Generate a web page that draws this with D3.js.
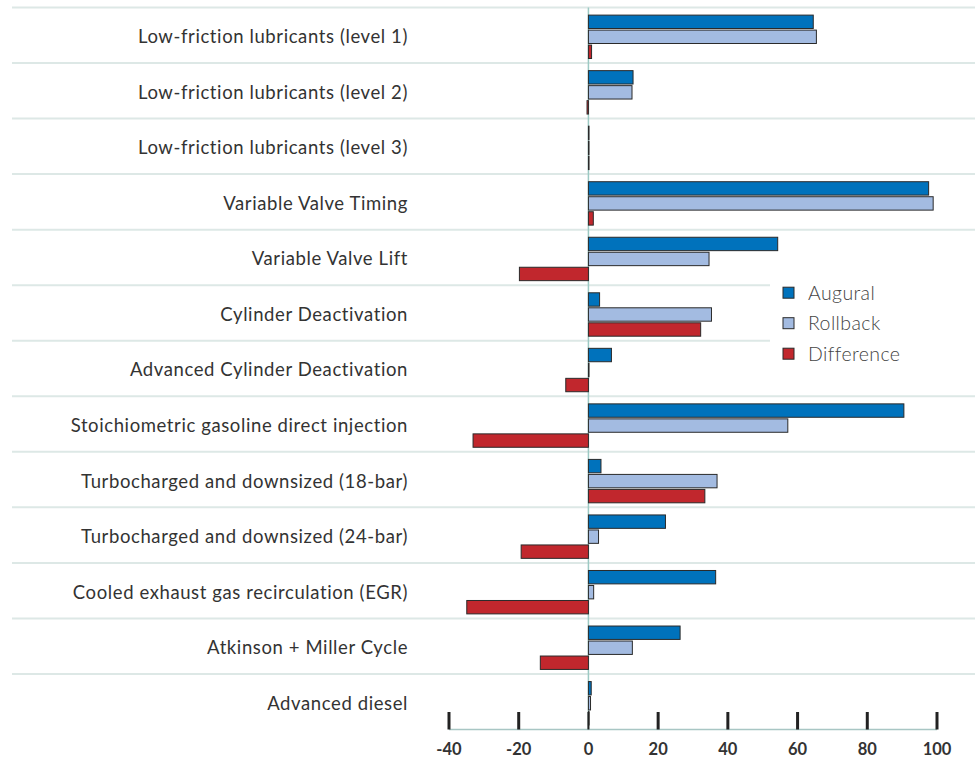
<!DOCTYPE html>
<html>
<head>
<meta charset="utf-8">
<script src="https://cdn.jsdelivr.net/npm/d3@7"></script>
<style>
  html, body { margin: 0; padding: 0; background: #fff; }
  svg { display: block; font-family: Lato, "Open Sans", sans-serif; font-variant-ligatures: none; }
</style>
</head>
<body>
<svg id="chart" width="975" height="760"></svg>
<script>
const categories = [
  "Low-friction lubricants (level 1)",
  "Low-friction lubricants (level 2)",
  "Low-friction lubricants (level 3)",
  "Variable Valve Timing",
  "Variable Valve Lift",
  "Cylinder Deactivation",
  "Advanced Cylinder Deactivation",
  "Stoichiometric gasoline direct injection",
  "Turbocharged and downsized (18-bar)",
  "Turbocharged and downsized (24-bar)",
  "Cooled exhaust gas recirculation (EGR)",
  "Atkinson + Miller Cycle",
  "Advanced diesel"
];
const seriesNames = ["Augural", "Rollback", "Difference"];
const augural    = [64.5, 12.8, 0.05, 97.6, 54.3, 3.2, 6.6, 90.5, 3.6, 22.1, 36.5, 26.3, 0.8];
const rollback   = [65.4, 12.5, 0.05, 98.9, 34.6, 35.3, 0.05, 57.2, 36.9, 2.9, 1.5, 12.6, 0.6];
const difference = [0.9, -0.4, 0.05, 1.4, -19.8, 32.2, -6.5, -33.1, 33.4, -19.3, -34.9, -13.8, 0.05];
const xTicks = [-40, -20, 0, 20, 40, 60, 80, 100];
const colors = ["#0072bc", "#a3bbe1", "#c1272d"];

const seriesValues = [augural, rollback, difference];
const rows = categories.map((c, i) => ({
  cat: c,
  vals: seriesNames.map((s, j) => ({ series: s, value: seriesValues[j][i] }))
}));

const svg = d3.select("#chart");
const x = d3.scaleLinear().domain([-40, 100]).range([449, 937]);
const y = d3.scaleBand().domain(categories).range([7.5, 729.5]).paddingInner(0).paddingOuter(0);
const rh = y.bandwidth();
const yInner = d3.scaleBand().domain(seriesNames).range([7.6, 51.0]).paddingInner(0.107).paddingOuter(0);

// row separators
svg.append("g").selectAll("line").data(categories).join("line")
  .attr("x1", 12).attr("x2", 975)
  .attr("y1", d => y(d)).attr("y2", d => y(d))
  .attr("stroke", "#dde8e6").attr("stroke-width", 2);

// category labels
svg.append("g").selectAll("text").data(categories).join("text")
  .attr("x", 408).attr("y", d => y(d) + rh / 2 + 1.5)
  .attr("dy", "0.35em")
  .attr("text-anchor", "end")
  .attr("font-size", 18.5)
  .attr("letter-spacing", 0.6)
  .attr("fill", "#333")
  .text(d => d);

// zero line
svg.append("line")
  .attr("x1", x(0)).attr("x2", x(0))
  .attr("y1", 7.5).attr("y2", 729.5)
  .attr("stroke", "#9cc9c3").attr("stroke-width", 1.5);

// bars
const rowG = svg.append("g").selectAll("g").data(rows).join("g")
  .attr("transform", d => `translate(0,${y(d.cat)})`);
rowG.selectAll("rect").data(d => d.vals).join("rect")
  .attr("x", d => x(Math.min(0, d.value)))
  .attr("width", d => Math.max(0.6, Math.abs(x(d.value) - x(0))))
  .attr("y", d => yInner(d.series))
  .attr("height", yInner.bandwidth())
  .attr("fill", d => colors[seriesNames.indexOf(d.series)])
  .attr("stroke", "#2a2a2a")
  .attr("stroke-width", 1);

// x axis
const axisG = svg.append("g");
axisG.append("line")
  .attr("x1", x(-40)).attr("x2", x(100))
  .attr("y1", 729.5).attr("y2", 729.5)
  .attr("stroke", "#a8c6c4").attr("stroke-width", 1.5);
axisG.selectAll("line.tick").data(xTicks).join("line")
  .attr("class", "tick")
  .attr("x1", d => x(d)).attr("x2", d => x(d))
  .attr("y1", 712).attr("y2", 729.5)
  .attr("stroke", "#222").attr("stroke-width", d => d === 0 ? 2 : 3);
axisG.selectAll("text").data(xTicks).join("text")
  .attr("x", d => x(d)).attr("y", 749.5)
  .attr("dy", "0.35em")
  .attr("text-anchor", "middle")
  .attr("font-size", 16.5)
  .attr("font-weight", "bold")
  .attr("fill", "#333")
  .text(d => d);

// legend
const lg = svg.append("g");
lg.append("rect").attr("x", 770).attr("y", 262).attr("width", 205).attr("height", 106).attr("fill", "#fff");
const items = lg.selectAll("g").data(seriesNames).join("g")
  .attr("transform", (d, i) => `translate(783,${292.7 + i * 30.5})`);
items.append("rect")
  .attr("x", 0).attr("y", -5.5).attr("width", 11).attr("height", 11)
  .attr("fill", (d, i) => colors[i])
  .attr("stroke", "#2a2a2a").attr("stroke-width", 1);
items.append("text")
  .attr("x", 25).attr("y", 0).attr("dy", "0.35em")
  .attr("font-size", 19.5)
  .attr("letter-spacing", 0.4)
  .attr("font-weight", 300)
  .attr("fill", "#444")
  .text(d => d);
</script>
</body>
</html>
